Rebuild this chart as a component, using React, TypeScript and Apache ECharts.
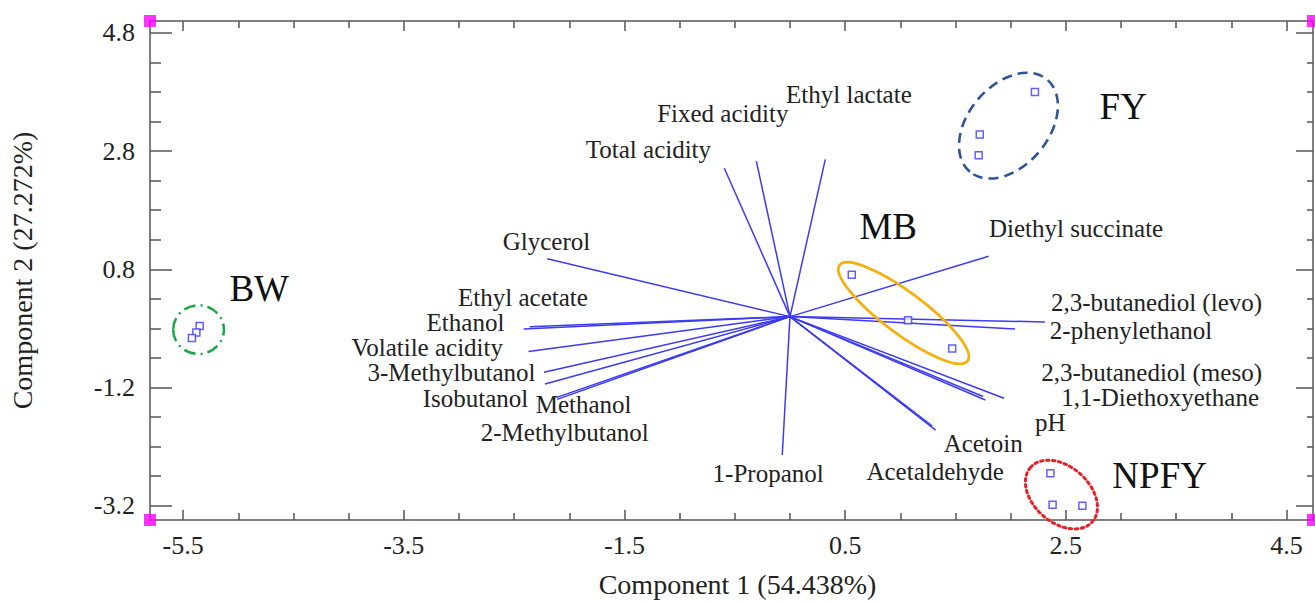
import React, { useEffect, useRef } from "react";
import * as echarts from "echarts";

// ---- axes ----
const xMin = -5.8;
const xMax = 4.74;
const yMin = -3.44;
const yMax = 5.0;
const xTicksMajor = [-5.5, -3.5, -1.5, 0.5, 2.5, 4.5];
const xTicksMinor = [-5, -4.5, -4, -3, -2.5, -2, -1, -0.5, 0, 1, 1.5, 2, 3, 3.5, 4];
const yTicksMajor = [-3.2, -1.2, 0.8, 2.8, 4.8];
const yTicksMinor = [-2.7, -2.2, -1.7, -0.7, -0.2, 0.3, 1.3, 1.8, 2.3, 3.3, 3.8, 4.3];
const xTitle = "Component 1 (54.438%)";
const yTitle = "Component 2 (27.272%)";

// ---- loadings (variables) ----
const variables = [
  "Ethyl lactate", "Fixed acidity", "Total acidity", "Glycerol", "Ethyl acetate",
  "Ethanol", "Volatile acidity", "3-Methylbutanol", "Isobutanol", "Methanol",
  "2-Methylbutanol", "1-Propanol", "Acetaldehyde", "Acetoin", "pH",
  "1,1-Diethoxyethane", "2,3-butanediol (meso)", "2-phenylethanol",
  "2,3-butanediol (levo)", "Diethyl succinate",
];
const loadX = [0.32, -0.305, -0.595, -2.2, -2.36, -2.413, -2.37, -2.23, -2.22, -2.12, -2.11, -0.07, 1.29, 1.32, 1.75, 1.77, 1.94, 2.04, 2.31, 1.8];
const loadY = [2.66, 2.63, 2.51, 0.98, -0.17, -0.21, -0.59, -0.94, -1.14, -1.37, -1.4, -2.34, -1.85, -1.92, -1.35, -1.41, -1.38, -0.21, -0.09, 1.02];
const labelX = [0.534, -0.609, -1.283, -2.207, -2.42, -2.941, -3.288, -3.068, -2.851, -1.87, -2.041, -0.198, 1.316, 1.751, 2.358, 3.354, 3.277, 3.091, 3.322, 2.593];
const labelY = [3.756, 3.436, 2.83, 1.265, 0.322, -0.1, -0.53, -0.95, -1.38, -1.491, -1.968, -2.658, -2.624, -2.153, -1.799, -1.37, -0.941, -0.234, 0.238, 1.484];

// ---- scores (samples) ----
const groups = ["BW", "MB", "FY", "NPFY"];
const scoreX = [
  [-5.35, -5.38, -5.42],
  [0.56, 1.07, 1.47],
  [2.22, 1.72, 1.71],
  [2.36, 2.38, 2.65],
];
const scoreY = [
  [-0.16, -0.27, -0.36],
  [0.71, -0.06, -0.54],
  [3.8, 3.08, 2.73],
  [-2.65, -3.18, -3.2],
];
const groupLabelX = [-4.81, 0.89, 3.02, 3.35];
const groupLabelY = [0.47, 1.52, 3.55, -2.68];
// confidence ellipses: centre, end of major axis, minor/major ratio
const ellCX = [-5.36, 1.03, 1.98, 2.46];
const ellCY = [-0.22, 0.06, 3.23, -3.01];
const ellEX = [-5.13, 1.61, 2.33, 2.74];
const ellEY = [-0.22, -0.75, 4.01, -3.47];
const ellRatio = [0.96, 0.26, 0.67, 0.68];

// ---- styles ----
const FONT = '"Liberation Serif", "Times New Roman", serif';
const TEXT = "#222222";
const AXIS = "#555555";
const VEC = "#3b3bf2";
const PT = "#3a3aff";
const ellStroke = ["#1aa64b", "#f4b010", "#2e5597", "#e8202a"];
const ellDash: any[] = [[12, 5, 2, 5], "solid", [10, 6], [2.5, 3.5]];
const ellWidth = [2.5, 2.8, 2.6, 3];

export default function App() {
  const ref = useRef<HTMLDivElement>(null);
  useEffect(() => {
    if (!ref.current) return;
    const chart = echarts.init(ref.current, undefined, { renderer: "svg" });
    const lineStyle = { color: AXIS, width: 1.5 };
    const fmt = (v: number) => v.toFixed(1);
    const baseX = { type: "value", min: xMin, max: xMax, splitLine: { show: false }, gridIndex: 0 };
    const baseY = { type: "value", min: yMin, max: yMax, splitLine: { show: false }, gridIndex: 0 };

    const scoreData: number[][] = [];
    scoreX.forEach((xs, g) => xs.forEach((x, i) => scoreData.push([x, scoreY[g][i]])));

    const option: any = {
      animation: false,
      backgroundColor: "#ffffff",
      grid: { left: 150, right: 2, top: 21, bottom: 81, containLabel: false },
      xAxis: [
        {
          ...baseX,
          position: "bottom",
          axisLine: { show: true, onZero: false, lineStyle },
          axisTick: { show: true, inside: true, length: 10, customValues: xTicksMajor, lineStyle },
          axisLabel: { show: true, customValues: xTicksMajor, formatter: fmt, fontSize: 26, fontFamily: FONT, color: TEXT, margin: 12 },
          name: xTitle,
          nameLocation: "middle",
          nameGap: 50,
          nameTextStyle: { fontSize: 28, fontFamily: FONT, color: TEXT, padding: [0, 0, 0, 12] },
        },
        {
          ...baseX,
          position: "bottom",
          axisLine: { show: false, onZero: false },
          axisTick: { show: true, inside: true, length: 7, customValues: xTicksMinor, lineStyle },
          axisLabel: { show: false },
        },
        {
          ...baseX,
          position: "top",
          axisLine: { show: true, onZero: false, lineStyle },
          axisTick: { show: true, inside: true, length: 10, customValues: xTicksMajor, lineStyle },
          axisLabel: { show: false },
        },
        {
          ...baseX,
          position: "top",
          axisLine: { show: false, onZero: false },
          axisTick: { show: true, inside: true, length: 7, customValues: xTicksMinor, lineStyle },
          axisLabel: { show: false },
        },
      ],
      yAxis: [
        {
          ...baseY,
          position: "left",
          axisLine: { show: true, onZero: false, lineStyle },
          axisTick: { show: true, inside: true, length: 22, customValues: yTicksMajor, lineStyle },
          axisLabel: { show: true, customValues: yTicksMajor, formatter: fmt, fontSize: 26, fontFamily: FONT, color: TEXT, margin: 15 },
          name: yTitle,
          nameLocation: "middle",
          nameRotate: 90,
          nameGap: 114,
          nameTextStyle: { fontSize: 28, fontFamily: FONT, color: TEXT },
        },
        {
          ...baseY,
          position: "left",
          axisLine: { show: false, onZero: false },
          axisTick: { show: true, inside: true, length: 11, customValues: yTicksMinor, lineStyle },
          axisLabel: { show: false },
        },
        {
          ...baseY,
          position: "right",
          axisLine: { show: true, onZero: false, lineStyle },
          axisTick: { show: true, inside: true, length: 17, customValues: yTicksMajor, lineStyle },
          axisLabel: { show: false },
        },
        {
          ...baseY,
          position: "right",
          axisLine: { show: false, onZero: false },
          axisTick: { show: true, inside: true, length: 6, customValues: yTicksMinor, lineStyle },
          axisLabel: { show: false },
        },
      ],
      series: [
        {
          type: "custom",
          name: "loadings",
          coordinateSystem: "cartesian2d",
          xAxisIndex: 0,
          yAxisIndex: 0,
          clip: false,
          silent: true,
          z: 2,
          data: variables.map((n, i) => [loadX[i], loadY[i]]),
          renderItem: (params: any, api: any) => {
            const o = api.coord([0, 0]);
            const e = api.coord([api.value(0), api.value(1)]);
            return {
              type: "line",
              shape: { x1: o[0], y1: o[1], x2: e[0], y2: e[1] },
              style: { stroke: VEC, lineWidth: 1.5 },
            };
          },
        },
        {
          type: "custom",
          name: "ellipses",
          coordinateSystem: "cartesian2d",
          xAxisIndex: 0,
          yAxisIndex: 0,
          clip: false,
          silent: true,
          z: 3,
          data: groups.map((g, i) => [ellCX[i], ellCY[i], ellEX[i], ellEY[i], ellRatio[i]]),
          renderItem: (params: any, api: any) => {
            const i = params.dataIndex;
            const c = api.coord([api.value(0), api.value(1)]);
            const e = api.coord([api.value(2), api.value(3)]);
            const a = Math.hypot(e[0] - c[0], e[1] - c[1]);
            const ang = Math.atan2(e[1] - c[1], e[0] - c[0]);
            return {
              type: "ellipse",
              x: c[0],
              y: c[1],
              rotation: -ang,
              shape: { cx: 0, cy: 0, rx: a, ry: a * api.value(4) },
              style: {
                fill: "none",
                stroke: ellStroke[i],
                lineWidth: ellWidth[i],
                lineDash: ellDash[i],
                lineCap: i === 3 ? "round" : "butt",
              },
            };
          },
        },
        {
          type: "scatter",
          name: "scores",
          xAxisIndex: 0,
          yAxisIndex: 0,
          symbol: "rect",
          symbolSize: 7,
          z: 4,
          itemStyle: { color: "#ffffff", borderColor: PT, borderWidth: 1.5 },
          data: scoreData,
        },
        {
          type: "custom",
          name: "variable labels",
          coordinateSystem: "cartesian2d",
          xAxisIndex: 0,
          yAxisIndex: 0,
          clip: false,
          silent: true,
          z: 5,
          data: variables.map((n, i) => [labelX[i], labelY[i]]),
          renderItem: (params: any, api: any) => {
            const p = api.coord([api.value(0), api.value(1)]);
            return {
              type: "text",
              x: p[0],
              y: p[1],
              style: {
                text: variables[params.dataIndex],
                fill: TEXT,
                fontSize: 25,
                fontFamily: FONT,
                align: "center",
                verticalAlign: "middle",
              },
            };
          },
        },
        {
          type: "custom",
          name: "group labels",
          coordinateSystem: "cartesian2d",
          xAxisIndex: 0,
          yAxisIndex: 0,
          clip: false,
          silent: true,
          z: 5,
          data: groups.map((g, i) => [groupLabelX[i], groupLabelY[i]]),
          renderItem: (params: any, api: any) => {
            const p = api.coord([api.value(0), api.value(1)]);
            return {
              type: "text",
              x: p[0],
              y: p[1],
              style: {
                text: groups[params.dataIndex],
                fill: "#111111",
                fontSize: 37,
                fontFamily: FONT,
                align: "center",
                verticalAlign: "middle",
              },
            };
          },
        },
        {
          type: "scatter",
          name: "corners",
          xAxisIndex: 0,
          yAxisIndex: 0,
          symbol: "rect",
          symbolSize: 12,
          clip: false,
          silent: true,
          z: 6,
          itemStyle: { color: "#ff00ff" },
          data: [[xMin, yMin], [xMin, yMax], [xMax, yMin], [xMax, yMax]],
        },
      ],
    };
    chart.setOption(option);
    return () => chart.dispose();
  }, []);
  return (
    <div
      ref={ref}
      style={{ position: "absolute", left: 0, top: 0, width: 1315, height: 603, background: "#fff" }}
    />
  );
}
